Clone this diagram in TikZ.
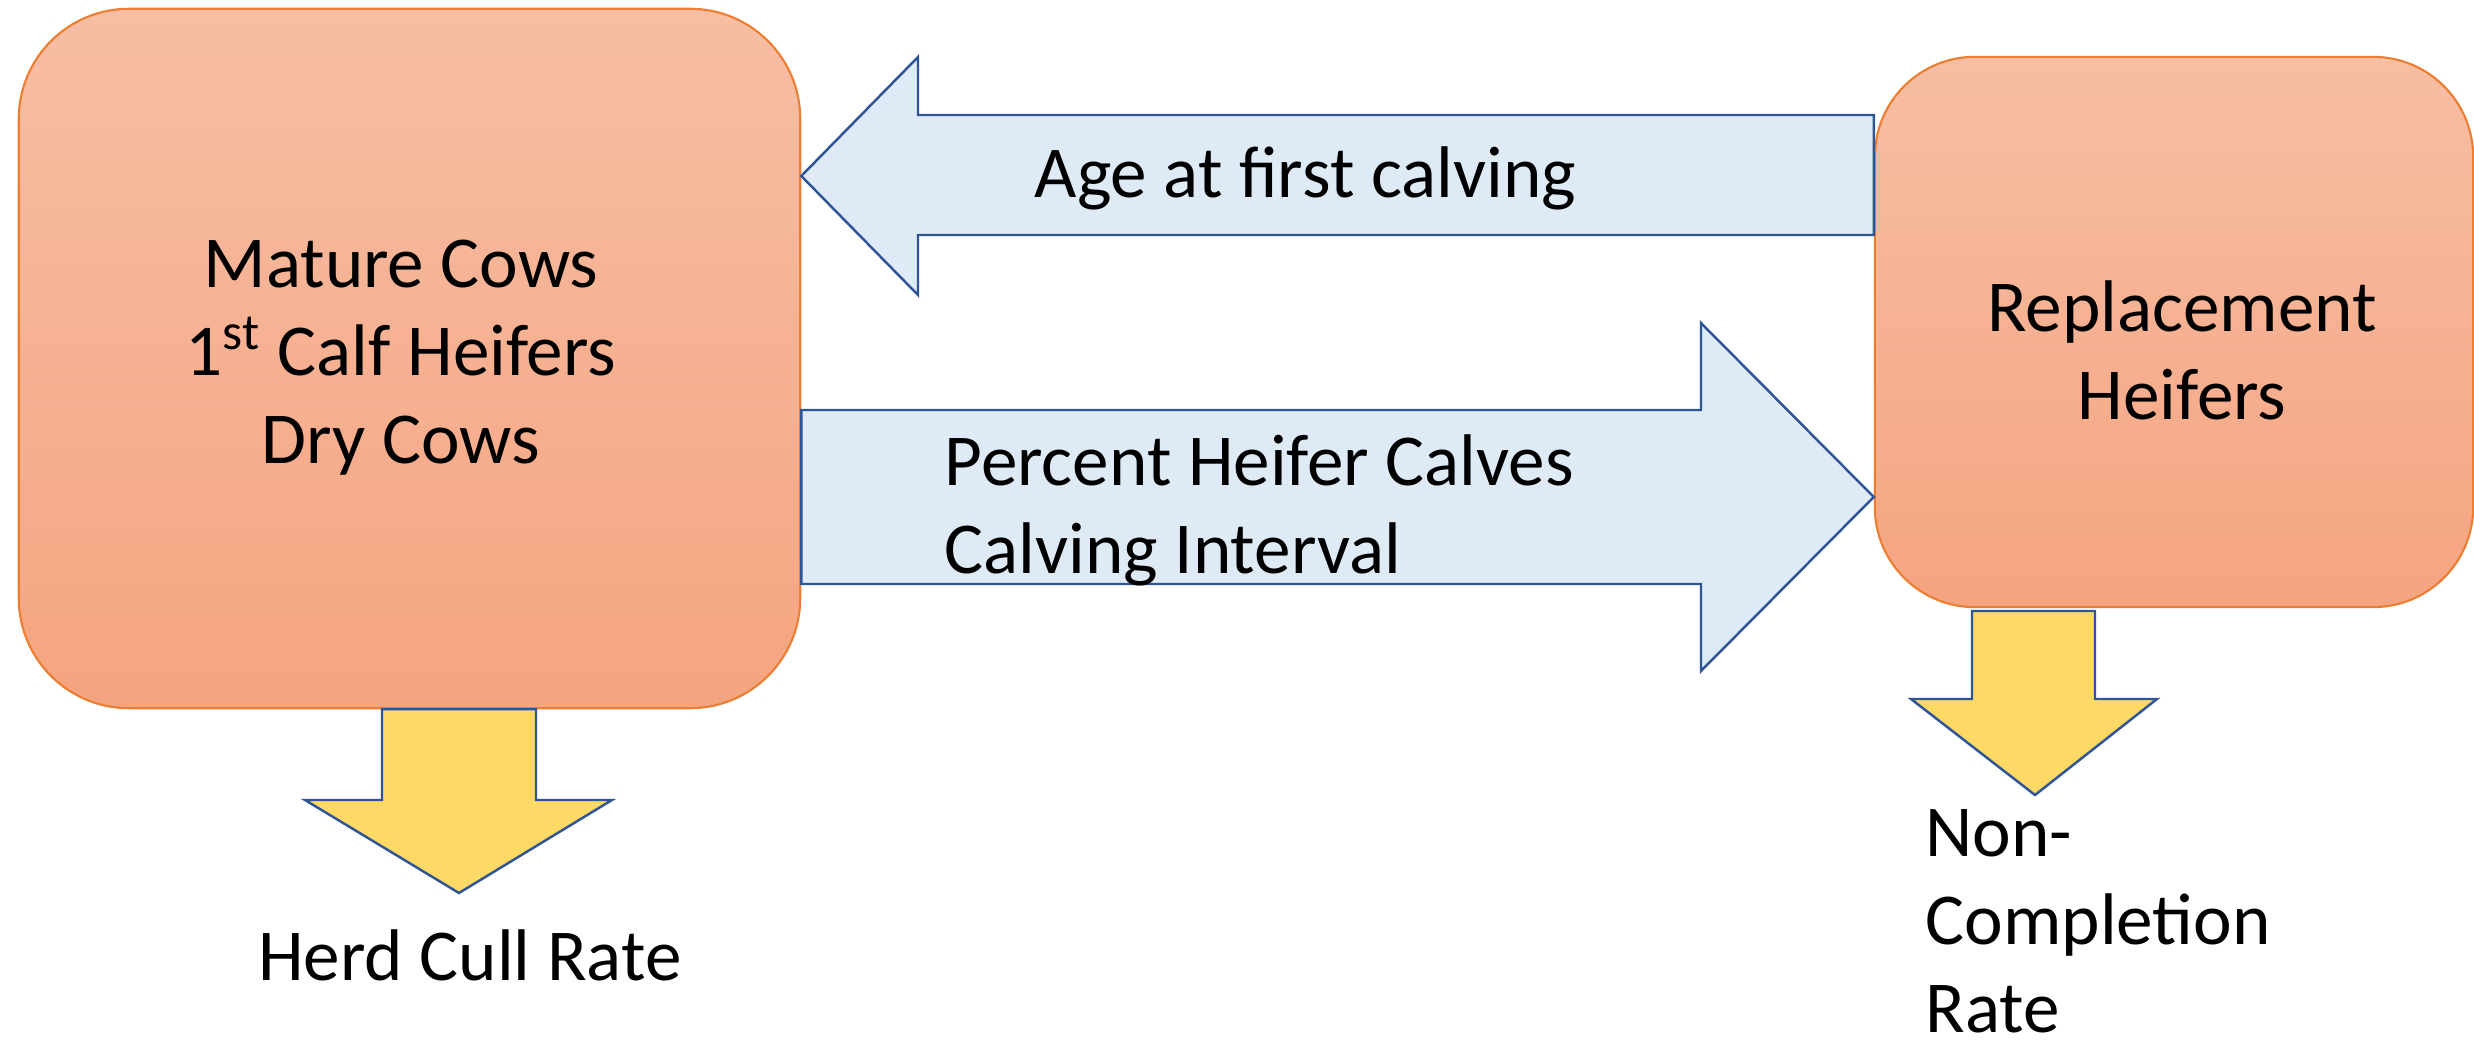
\documentclass[tikz,border=0pt]{standalone}
\usepackage{fontspec}
\setmainfont{Carlito}
\usepackage{tikz}

\definecolor{boxtop}{RGB}{247,190,164}
\definecolor{boxbottom}{RGB}{245,164,128}
\definecolor{boxline}{RGB}{237,125,49}
\definecolor{flowfill}{RGB}{222,235,247}
\definecolor{flowline}{RGB}{47,85,151}
\definecolor{lossfill}{RGB}{255,217,102}

\begin{document}
\begin{tikzpicture}[x=0.01cm, y=-0.01cm,
  herd box/.style={rectangle,rounded corners=1.1cm,draw=boxline,line width=0.6pt,
    top color=boxtop,bottom color=boxbottom,inner sep=0pt},
  flow arrow/.style={draw=flowline,fill=flowfill,line width=0.7pt},
  loss arrow/.style={draw=flowline,fill=lossfill,line width=0.7pt},
  box text/.style={font=\fontsize{20.8}{25}\selectfont,inner sep=0pt,align=center}]

\useasboundingbox (0,0) rectangle (2474,1043);

\node[herd box, minimum width=7.81cm, minimum height=6.99cm] (mature) at (409.5,358.5) {};
\node[herd box, rounded corners=1cm, minimum width=5.98cm, minimum height=5.5cm] (repl) at (2174,332) {};

\node[box text] (maturetext) at (401,358) {Mature Cows\\1\textsuperscript{st} Calf Heifers\\Dry Cows};
\node[box text] (repltext) at (2182,350) {Replacement\\Heifers};

% heifers back into the herd
\draw[flow arrow] (repl.west |- 0,115) -- (918,115) -- (918,57) -- (mature.east |- 0,176)
  -- (918,295) -- (918,235) -- (repl.west |- 0,235) -- cycle;
% calves out to the replacements
\draw[flow arrow] (mature.east |- 0,410) -- (1701,410) -- (1701,323) -- (repl.west |- 0,497)
  -- (1701,671) -- (1701,584) -- (mature.east |- 0,584) -- cycle;

% losses
\draw[loss arrow] (382,0 |- mature.south) -- (382,800) -- (305,800) -- (459,893)
  -- (612,800) -- (536,800) -- (536,0 |- mature.south) -- cycle;
\draw[loss arrow] (1972,611) -- (1972,699) -- (1911,699) -- (2035,795)
  -- (2157,699) -- (2095,699) -- (2095,611) -- cycle;

\node[box text, anchor=base west] (agetext) at (1034,198) {Age at first calving};
\node[box text, align=left, anchor=west] (percenttext) at (944,510) {Percent Heifer Calves\\Calving Interval};
\node[box text, anchor=base] (culltext) at (470,981) {Herd Cull Rate};
\node[box text, align=left, anchor=north west] (noncomptext) at (1925,809) {Non-\\Completion\\Rate};
\end{tikzpicture}
\end{document}
